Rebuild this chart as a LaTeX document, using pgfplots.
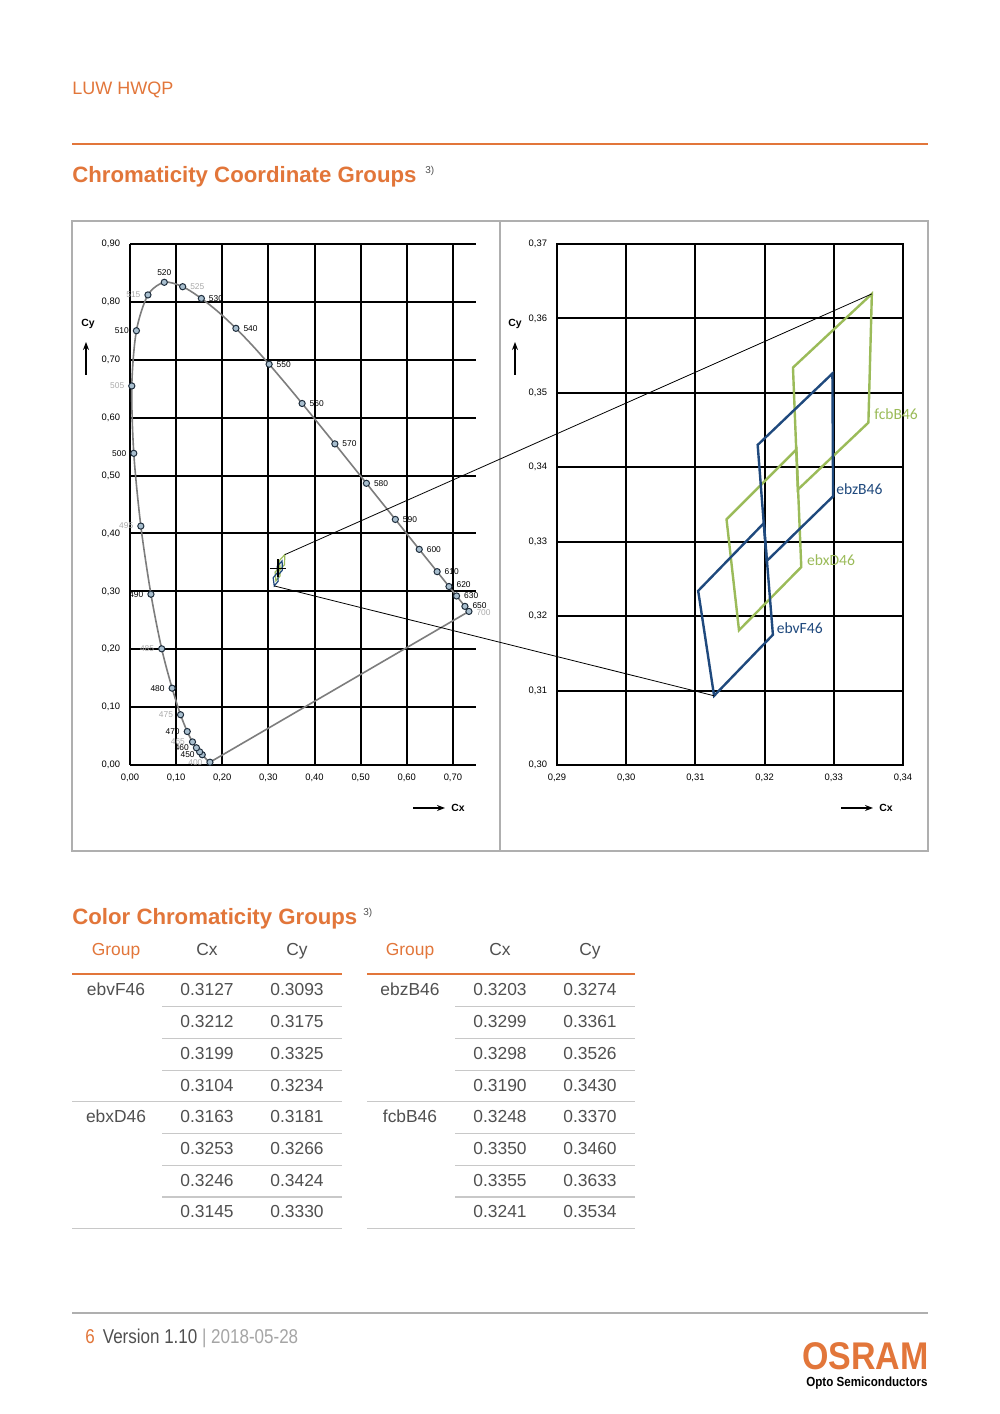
\documentclass[border=0pt]{standalone}
\usepackage{pgfplots}
\pgfplotsset{compat=1.18}
\usetikzlibrary{arrows.meta}
\usepackage{fontspec}
\setmainfont{Liberation Sans}
\newfontfamily\carl{Carlito}
\newfontfamily\cond[FakeStretch=0.85]{Liberation Sans}
\newfontfamily\condb[FakeStretch=0.88]{Liberation Sans}
\definecolor{osr}{RGB}{226,118,58}
\definecolor{dblue}{RGB}{31,73,125}
\definecolor{lgreen}{RGB}{155,187,89}
\definecolor{mfill}{RGB}{168,190,206}
\definecolor{mdraw}{RGB}{30,45,60}
\definecolor{txtgray}{RGB}{80,80,80}
\definecolor{lgray}{RGB}{165,165,165}
\definecolor{rulegray}{RGB}{200,200,200}
\definecolor{wlgray}{RGB}{170,170,170}
\definecolor{curvegray}{RGB}{125,125,125}
\definecolor{framegray}{RGB}{175,175,175}

\pgfplotsset{
  chrom/.style={
    scale only axis, anchor=south west, width=173pt, height=260.5pt,
    grid=major, major grid style={black, line width=1pt},
    axis line style={black, line width=1pt},
    major tick length=0pt,
    tick label style={font=\fontsize{4.7}{5}\selectfont, inner sep=0pt},
    xticklabel style={anchor=north, yshift=-4.3pt},
    yticklabel style={anchor=east, xshift=-4.8pt},
    /pgf/number format/fixed, /pgf/number format/fixed zerofill,
    /pgf/number format/precision=2, /pgf/number format/use comma,
    /pgf/number format/assume math mode=true,
    clip=false,
  },
}
\tikzset{
  wl/.style={font=\fontsize{4.2}{4.2}\selectfont, inner sep=0pt},
  wlR/.style={wl, anchor=west, xshift=3.6pt},
  wlL/.style={wl, anchor=east, xshift=-3.6pt},
  tab/.style={font=\fontsize{8.7}{9}\selectfont, text=txtgray, anchor=base, inner sep=0pt},
}

\begin{document}
\begin{tikzpicture}[x=0.5pt,y=0.5pt]
\fill[white] (0,0) rectangle (1000,1414);
\path[use as bounding box] (0,0) rectangle (1000,1414);

% header
\node[anchor=base west, inner sep=0pt, text=osr, font=\fontsize{9}{10}\selectfont] at (72,1319) {LUW HWQP};
\draw[osr, line width=1pt] (72,1270) -- (928,1270);
\node[anchor=base west, inner sep=0pt, text=osr, font=\bfseries\fontsize{11.1}{12}\selectfont] at (72,1231) {Chromaticity Coordinate Groups};
\node[anchor=base west, inner sep=0pt, text=txtgray, font=\fontsize{5}{5}\selectfont] at (425,1240) {3)};

% frame
\draw[framegray, line width=0.8pt] (72,563) rectangle (928,1193);
\draw[framegray, line width=0.8pt] (500,563) -- (500,1193);

% ---------------- left: CIE diagram
\begin{axis}[chrom, at={(65pt,324.5pt)},
  xmin=0, xmax=0.75, ymin=0, ymax=0.9,
  xtick={0,0.1,0.2,0.3,0.4,0.5,0.6,0.7},
  ytick={0,0.1,0.2,0.3,0.4,0.5,0.6,0.7,0.8,0.9},
  axis x line*=bottom, axis y line*=left]
% spectral locus
\addplot[curvegray, line width=0.8pt, smooth, tension=0.5] coordinates {
(0.1733,0.0048) (0.1714,0.0051) (0.1689,0.0069) (0.1644,0.0109)
(0.1566,0.0177) (0.1510,0.0227) (0.1440,0.0297) (0.1355,0.0399)
(0.1241,0.0578) (0.1096,0.0868) (0.0913,0.1327) (0.0687,0.2007)
(0.0454,0.2950) (0.0235,0.4127) (0.0082,0.5384) (0.0039,0.6548)
(0.0139,0.7502) (0.0389,0.8120) (0.0743,0.8338) (0.1142,0.8262)
(0.1547,0.8059) (0.1929,0.7816) (0.2296,0.7543) (0.2658,0.7243)
(0.3016,0.6923) (0.3373,0.6589) (0.3731,0.6245) (0.4087,0.5896)
(0.4441,0.5547) (0.4788,0.5202) (0.5125,0.4866) (0.5448,0.4544)
(0.5752,0.4242) (0.6029,0.3965) (0.6270,0.3725) (0.6482,0.3514)
(0.6658,0.3340) (0.6801,0.3197) (0.6915,0.3083) (0.7006,0.2993)
(0.7079,0.2920) (0.7190,0.2809) (0.7260,0.2740) (0.7300,0.2700)
(0.7334,0.2666) (0.7347,0.2653)};
% purple line
\addplot[curvegray, line width=0.8pt] coordinates {(0.1733,0.0048) (0.7347,0.2653)};
% small groups
\addplot[lgreen, line width=0.6pt] coordinates {(0.3163,0.3181) (0.3253,0.3266) (0.3246,0.3424) (0.3145,0.3330)} -- cycle;
\addplot[lgreen, line width=0.6pt] coordinates {(0.3248,0.3370) (0.3350,0.3460) (0.3355,0.3633) (0.3241,0.3534)} -- cycle;
\addplot[dblue, line width=0.6pt] coordinates {(0.3127,0.3093) (0.3212,0.3175) (0.3199,0.3325) (0.3104,0.3234)} -- cycle;
\addplot[dblue, line width=0.6pt] coordinates {(0.3203,0.3274) (0.3299,0.3361) (0.3298,0.3526) (0.3190,0.3430)} -- cycle;
\addplot[black, line width=0.5pt] coordinates {(0.303,0.340) (0.339,0.340)};
\addplot[black, line width=1.1pt] coordinates {(0.3215,0.325) (0.3215,0.356)};
% markers
\addplot[only marks, mark=*, mark size=1.55pt, mark options={fill=mfill, draw=mdraw, line width=0.5pt}] coordinates {
(0.1733,0.0048) (0.1566,0.0177) (0.1510,0.0227) (0.1440,0.0297) (0.1355,0.0399)
(0.1241,0.0578) (0.1096,0.0868) (0.0913,0.1327) (0.0687,0.2007)
(0.0454,0.2950) (0.0235,0.4127) (0.0082,0.5384) (0.0039,0.6548)
(0.0139,0.7502) (0.0389,0.8120) (0.0743,0.8338) (0.1142,0.8262)
(0.1547,0.8059) (0.2296,0.7543) (0.3016,0.6923) (0.3731,0.6245)
(0.4441,0.5547) (0.5125,0.4866) (0.5752,0.4242) (0.6270,0.3725)
(0.6658,0.3340) (0.6915,0.3083) (0.7079,0.2920) (0.7260,0.2740) (0.7347,0.2653)};
% wavelength labels
\node[wlL, text=wlgray] at (axis cs:0.1733,0.0048) {400};
\node[wlL] at (axis cs:0.1566,0.0177) {450};
\node[wlL] at (axis cs:0.1440,0.0297) {460};
\node[wlL, text=wlgray] at (axis cs:0.1355,0.0399) {465};
\node[wlL] at (axis cs:0.1241,0.0578) {470};
\node[wlL, text=wlgray] at (axis cs:0.1096,0.0868) {475};
\node[wlL] at (axis cs:0.0913,0.1327) {480};
\node[wlL, text=wlgray] at (axis cs:0.0687,0.2007) {485};
\node[wlL] at (axis cs:0.0454,0.2950) {490};
\node[wlL, text=wlgray] at (axis cs:0.0235,0.4127) {495};
\node[wlL] at (axis cs:0.0082,0.5384) {500};
\node[wlL, text=wlgray] at (axis cs:0.0039,0.6548) {505};
\node[wlL] at (axis cs:0.0139,0.7502) {510};
\node[wlL, text=wlgray] at (axis cs:0.0389,0.8120) {515};
\node[wl, anchor=south, yshift=3pt] at (axis cs:0.0743,0.8338) {520};
\node[wlR, text=wlgray] at (axis cs:0.1142,0.8262) {525};
\node[wlR] at (axis cs:0.1547,0.8059) {530};
\node[wlR] at (axis cs:0.2296,0.7543) {540};
\node[wlR] at (axis cs:0.3016,0.6923) {550};
\node[wlR] at (axis cs:0.3731,0.6245) {560};
\node[wlR] at (axis cs:0.4441,0.5547) {570};
\node[wlR] at (axis cs:0.5125,0.4866) {580};
\node[wlR] at (axis cs:0.5752,0.4242) {590};
\node[wlR] at (axis cs:0.6270,0.3725) {600};
\node[wlR] at (axis cs:0.6658,0.3340) {610};
\node[wlR, yshift=1pt] at (axis cs:0.6915,0.3083) {620};
\node[wlR] at (axis cs:0.7079,0.2920) {630};
\node[wlR, yshift=0.5pt] at (axis cs:0.7260,0.2740) {650};
\node[wlR, text=wlgray, yshift=-0.8pt] at (axis cs:0.7347,0.2653) {700};
\coordinate (LA) at (axis cs:0.3355,0.3633);
\coordinate (LB) at (axis cs:0.3127,0.3093);
\end{axis}

% ---------------- right: zoom
\begin{axis}[chrom, at={(278.5pt,324.5pt)},
  xmin=0.29, xmax=0.34, ymin=0.30, ymax=0.37,
  xtick={0.29,0.30,0.31,0.32,0.33,0.34},
  ytick={0.30,0.31,0.32,0.33,0.34,0.35,0.36,0.37}]
\addplot[lgreen, line width=1.2pt] coordinates {(0.3163,0.3181) (0.3253,0.3266) (0.3246,0.3424) (0.3145,0.3330)} -- cycle;
\addplot[lgreen, line width=1.2pt] coordinates {(0.3248,0.3370) (0.3350,0.3460) (0.3355,0.3633) (0.3241,0.3534)} -- cycle;
\addplot[dblue, line width=1.2pt] coordinates {(0.3127,0.3093) (0.3212,0.3175) (0.3199,0.3325) (0.3104,0.3234)} -- cycle;
\addplot[dblue, line width=1.2pt] coordinates {(0.3203,0.3274) (0.3299,0.3361) (0.3298,0.3526) (0.3190,0.3430)} -- cycle;
\node[anchor=west, inner sep=0pt, text=lgreen, font=\carl\fontsize{7.8}{8}\selectfont] at (axis cs:0.3358,0.3472) {fcbB46};
\node[anchor=west, inner sep=0pt, text=dblue, font=\carl\fontsize{7.8}{8}\selectfont] at (axis cs:0.3303,0.3371) {ebzB46};
\node[anchor=west, inner sep=0pt, text=lgreen, font=\carl\fontsize{7.8}{8}\selectfont] at (axis cs:0.3261,0.3275) {ebxD46};
\node[anchor=west, inner sep=0pt, text=dblue, font=\carl\fontsize{7.8}{8}\selectfont] at (axis cs:0.3217,0.3184) {ebvF46};
\coordinate (RA) at (axis cs:0.3355,0.3633);
\coordinate (RB) at (axis cs:0.3127,0.3093);
\end{axis}

% zoom connector lines
\draw[black, line width=0.4pt] (LA) -- (RA);
\draw[black, line width=0.4pt] (LB) -- (RB);

% axis names
\node[font=\bfseries\fontsize{5.2}{6}\selectfont] at (88,1090) {Cy};
\draw[-{Stealth[length=4pt,width=3pt]}, line width=0.8pt] (86,1039) -- (86,1072);
\node[font=\bfseries\fontsize{5.2}{6}\selectfont] at (515,1090) {Cy};
\draw[-{Stealth[length=4pt,width=3pt]}, line width=0.8pt] (515,1039) -- (515,1072);
\node[font=\bfseries\fontsize{5.2}{6}\selectfont] at (458,606) {Cx};
\draw[-{Stealth[length=4pt,width=3pt]}, line width=0.8pt] (413,606) -- (445,606);
\node[font=\bfseries\fontsize{5.2}{6}\selectfont] at (886,606) {Cx};
\draw[-{Stealth[length=4pt,width=3pt]}, line width=0.8pt] (841,606) -- (873,606);

% ---------------- table
\node[anchor=base west, inner sep=0pt, text=osr, font=\bfseries\fontsize{11.1}{12}\selectfont] at (72,489) {Color Chromaticity Groups};
\node[anchor=base west, inner sep=0pt, text=txtgray, font=\fontsize{5}{5}\selectfont] at (363,498) {3)};

\node[tab, text=osr] at (116,458) {Group};
\node[tab] at (207,458) {Cx};
\node[tab] at (297,458) {Cy};
\node[tab, text=osr] at (410,458) {Group};
\node[tab] at (500,458) {Cx};
\node[tab] at (590,458) {Cy};
\draw[osr, line width=0.8pt] (72,440) -- (342,440);
\draw[osr, line width=0.8pt] (367,440) -- (635,440);

\node[tab] at (116,418) {ebvF46};
\node[tab] at (116,291.2) {ebxD46};
\node[tab] at (410,418) {ebzB46};
\node[tab] at (410,291.2) {fcbB46};

\foreach \i/\cx/\cy in {0/0.3127/0.3093, 1/0.3212/0.3175, 2/0.3199/0.3325, 3/0.3104/0.3234,
                        4/0.3163/0.3181, 5/0.3253/0.3266, 6/0.3246/0.3424, 7/0.3145/0.3330}
  {\node[tab] at (207,{418-31.7*\i}) {\cx};
   \node[tab] at (297,{418-31.7*\i}) {\cy};}
\foreach \i/\cx/\cy in {0/0.3203/0.3274, 1/0.3299/0.3361, 2/0.3298/0.3526, 3/0.3190/0.3430,
                        4/0.3248/0.3370, 5/0.3350/0.3460, 6/0.3355/0.3633, 7/0.3241/0.3534}
  {\node[tab] at (500,{418-31.7*\i}) {\cx};
   \node[tab] at (590,{418-31.7*\i}) {\cy};}
\foreach \i in {0,1,2,4,5,6}
  {\draw[rulegray, line width=0.6pt] (162,{407.2-31.7*\i}) -- (342,{407.2-31.7*\i});
   \draw[rulegray, line width=0.6pt] (455,{407.2-31.7*\i}) -- (635,{407.2-31.7*\i});}
\foreach \i in {3,7}
  {\draw[rulegray, line width=0.6pt] (72,{407.2-31.7*\i}) -- (342,{407.2-31.7*\i});
   \draw[rulegray, line width=0.6pt] (367,{407.2-31.7*\i}) -- (635,{407.2-31.7*\i});}

% ---------------- footer
\draw[framegray, line width=0.6pt] (72,101) -- (928,101);
\node[anchor=base west, inner sep=0pt, font=\cond\fontsize{10}{12}\selectfont] at (85,70)
  {\textcolor{osr}{6}\hspace{4pt}\textcolor{txtgray}{Version 1.10} \textcolor{lgray}{| 2018-05-28}};
\node[anchor=base east, inner sep=0pt, text=osr, font=\condb\bfseries\fontsize{19.3}{20}\selectfont] at (929,44) {OSRAM};
\node[anchor=base east, inner sep=0pt, text=black, font=\condb\bfseries\fontsize{6.6}{7}\selectfont] at (928,27) {Opto Semiconductors};
\end{tikzpicture}
\end{document}
